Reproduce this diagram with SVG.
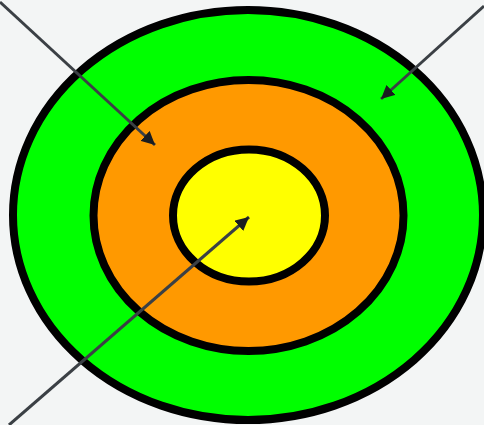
<svg xmlns="http://www.w3.org/2000/svg" width="484" height="425" viewBox="0 0 484 425">
<defs>
<style>
.ring{stroke:#000;stroke-width:8}
.conn{stroke:#3b4045;stroke-width:3;fill:none;marker-end:url(#ah)}
</style>
<marker id="ah" viewBox="0 0 10 10" refX="10" refY="5" markerWidth="4.5" markerHeight="4.5" orient="auto" markerUnits="strokeWidth">
<path d="M0,0 L10,5 L0,10 z" fill="#1a1d20"/>
</marker>
</defs>
<rect width="484" height="425" fill="#f3f5f5"/>
<g id="outer"><ellipse class="ring" cx="248" cy="215" rx="235" ry="205" fill="#00ff00"/></g>
<g id="middle"><ellipse class="ring" cx="248.5" cy="215.5" rx="155" ry="135.5" fill="#ff9900"/></g>
<g id="inner"><ellipse class="ring" cx="249" cy="215.5" rx="76" ry="66" fill="#ffff00"/></g>
<g id="connectors">
<line class="conn" x1="0" y1="2" x2="155" y2="145"/>
<line class="conn" x1="484" y1="6" x2="381" y2="99"/>
<line class="conn" x1="9" y1="425" x2="249" y2="217"/>
</g>
</svg>
